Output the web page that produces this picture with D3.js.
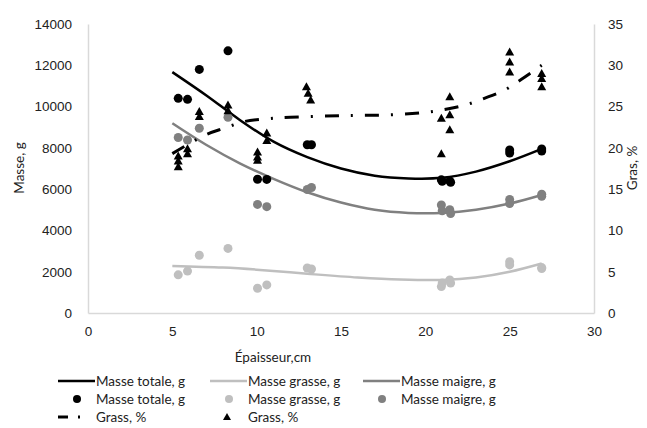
<!DOCTYPE html>
<html>
<head>
<meta charset="utf-8">
<script src="https://cdn.jsdelivr.net/npm/d3@7"></script>
<style>
  body { margin: 0; background: #fff; }
  svg { display: block; font-family: Lato, "Open Sans", sans-serif; }
  .tick-label { font-size: 13.5px; fill: #222; }
  .axis-title { font-size: 13.5px; fill: #222; }
  .legend-text { font-size: 13.5px; fill: #222; }
</style>
</head>
<body>
<svg width="647" height="428"></svg>
<script>
// observations (circles): thickness and masses
const obsThickness = [5.35, 5.9, 6.6, 8.3, 10.05, 10.6, 13.0, 13.25, 20.95, 21.0, 21.45, 21.5, 25.0, 25.0, 26.9, 26.9];
const totalMass = [10400, 10350, 11800, 12700, 6480, 6470, 8150, 8150, 6450, 6380, 6400, 6330, 7900, 7750, 7950, 7850];
const fatMass = [1850, 2030, 2800, 3130, 1200, 1360, 2180, 2130, 1280, 1450, 1600, 1450, 2480, 2330, 2200, 2150];
const leanMass = [8500, 8380, 8950, 9480, 5260, 5150, 5980, 6080, 5230, 4950, 5000, 4820, 5500, 5300, 5750, 5650];

// fat percentage (triangles)
const pctThickness = [5.35, 5.35, 5.35, 5.9, 5.9, 6.6, 6.6, 8.3, 8.3, 10.05, 10.05, 10.05, 10.6, 10.6, 12.95, 13.05, 13.2, 20.95, 20.95, 21.45, 21.45, 21.45, 25.0, 25.0, 25.0, 26.9, 26.9, 26.9];
const fatPct = [19.0, 18.4, 17.7, 19.9, 19.3, 24.4, 23.8, 25.2, 24.5, 19.5, 18.9, 18.5, 21.8, 20.9, 27.4, 26.6, 25.8, 19.3, 23.6, 26.2, 24.0, 22.2, 31.6, 30.4, 29.2, 29.0, 28.4, 27.4];

// trend curves
const totalTrendX = [5.0, 7, 9, 11, 13, 15, 17, 19, 21, 23, 25, 26.9];
const totalTrendY = [11670, 10550, 9350, 8300, 7550, 7000, 6650, 6520, 6550, 6850, 7350, 7950];
const leanTrendX = [5.0, 7, 9, 11, 13, 15, 17, 19, 21, 23, 25, 26.9];
const leanTrendY = [9190, 8150, 7250, 6500, 5850, 5350, 5000, 4850, 4850, 5000, 5300, 5716];
const fatTrendX = [5.0, 8, 10, 13, 16, 18.5, 21, 23, 25, 26.9];
const fatTrendY = [2280, 2200, 2100, 1900, 1720, 1620, 1600, 1720, 2000, 2400];
const pctTrendX = [5.0, 7, 8.1, 9.3, 10.5, 12, 15, 18, 20, 21.3, 22.4, 23.5, 24.7, 25.7, 26.9];
const pctTrendY = [19.3, 21.6, 22.4, 23.2, 23.5, 23.7, 23.9, 24.0, 24.3, 24.7, 25.2, 26.0, 27.0, 28.3, 30.0];

// axis ticks
const xTicks = [0, 5, 10, 15, 20, 25, 30];
const massTicks = [0, 2000, 4000, 6000, 8000, 10000, 12000, 14000];
const pctTicks = [0, 5, 10, 15, 20, 25, 30, 35];

const colTotal = '#000000';
const colFat = '#bfbfbf';
const colLean = '#808080';
const axisGrey = '#d9d9d9';

const margin = { top: 24, right: 53, bottom: 115, left: 88 };
const width = 647, height = 428;
const innerW = width - margin.left - margin.right;
const innerH = height - margin.top - margin.bottom;

const svg = d3.select('svg');
const g = svg.append('g').attr('transform', `translate(${margin.left},${margin.top})`);

const x = d3.scaleLinear().domain([0, 30]).range([0, innerW]);
const yMass = d3.scaleLinear().domain([0, 14000]).range([innerH, 0]);
const yPct = d3.scaleLinear().domain([0, 35]).range([innerH, 0]);

// axes (no tick marks, light grey lines)
const xAxis = g.append('g').attr('transform', `translate(0,${innerH})`)
  .call(d3.axisBottom(x).tickValues(xTicks).tickFormat(d3.format('d')).tickSize(0).tickPadding(13));
const yAxisL = g.append('g')
  .call(d3.axisLeft(yMass).tickValues(massTicks).tickFormat(d3.format('d')).tickSize(0).tickPadding(16));
const yAxisR = g.append('g').attr('transform', `translate(${innerW},0)`)
  .call(d3.axisRight(yPct).tickValues(pctTicks).tickFormat(d3.format('d')).tickSize(0).tickPadding(14));
[xAxis, yAxisL, yAxisR].forEach(a => {
  a.select('.domain').attr('stroke', axisGrey).attr('stroke-width', 1.5);
  a.selectAll('text').attr('class', 'tick-label').attr('font-family', null).attr('font-size', null);
});

// axis titles
svg.append('text').attr('class', 'axis-title')
  .attr('transform', 'translate(24,168) rotate(-90)')
  .attr('text-anchor', 'middle').text('Masse, g');
svg.append('text').attr('class', 'axis-title')
  .attr('transform', 'translate(637,168) rotate(-90)')
  .attr('text-anchor', 'middle').text('Gras, %');
svg.append('text').attr('class', 'axis-title')
  .attr('x', 273).attr('y', 362)
  .attr('text-anchor', 'middle').text('Épaisseur,cm');

// trend lines
const massLine = d3.line().x(d => x(d[0])).y(d => yMass(d[1])).curve(d3.curveCatmullRom);
const pctLine = d3.line().x(d => x(d[0])).y(d => yPct(d[1])).curve(d3.curveCatmullRom);

const trends = [
  { xs: fatTrendX, ys: fatTrendY, color: colFat },
  { xs: leanTrendX, ys: leanTrendY, color: colLean },
  { xs: totalTrendX, ys: totalTrendY, color: colTotal }
];
trends.forEach(t => {
  g.append('path')
    .datum(d3.zip(t.xs, t.ys))
    .attr('d', massLine)
    .attr('fill', 'none')
    .attr('stroke', t.color)
    .attr('stroke-width', 2.5);
});

// circles
const circleSeries = [
  { ys: fatMass, color: colFat },
  { ys: leanMass, color: colLean },
  { ys: totalMass, color: colTotal }
];
circleSeries.forEach(s => {
  g.append('g').selectAll('circle')
    .data(d3.zip(obsThickness, s.ys))
    .enter().append('circle')
      .attr('cx', d => x(d[0]))
      .attr('cy', d => yMass(d[1]))
      .attr('r', 4.5)
      .attr('fill', s.color);
});

// triangles
const tri = 'M0,-4.5L4.5,3.5L-4.5,3.5Z';
g.append('g').selectAll('path')
  .data(d3.zip(pctThickness, fatPct))
  .enter().append('path')
    .attr('d', tri)
    .attr('transform', d => `translate(${x(d[0])},${yPct(d[1])})`)
    .attr('fill', '#000');

// fat % trend (long dash dot)
g.append('path')
  .datum(d3.zip(pctTrendX, pctTrendY))
  .attr('d', pctLine)
  .attr('fill', 'none')
  .attr('stroke', '#000')
  .attr('stroke-width', 3)
  .attr('stroke-dasharray', '14,12,2,12');

// legend
const legend = svg.append('g');
const cols = [58, 210, 363];
const rows = [381, 399, 417];
const lineItems = [
  { label: 'Masse totale, g', color: colTotal },
  { label: 'Masse grasse, g', color: colFat },
  { label: 'Masse maigre, g', color: colLean }
];
lineItems.forEach((it, i) => {
  legend.append('line')
    .attr('x1', cols[i]).attr('x2', cols[i] + 37)
    .attr('y1', rows[0]).attr('y2', rows[0])
    .attr('stroke', it.color).attr('stroke-width', 2.5);
  legend.append('text').attr('class', 'legend-text')
    .attr('x', cols[i] + 38).attr('y', rows[0]).attr('dy', '0.35em')
    .text(it.label);
  legend.append('circle')
    .attr('cx', cols[i] + 19).attr('cy', rows[1]).attr('r', 4)
    .attr('fill', it.color);
  legend.append('text').attr('class', 'legend-text')
    .attr('x', cols[i] + 38).attr('y', rows[1]).attr('dy', '0.35em')
    .text(it.label);
});
legend.append('line')
  .attr('x1', cols[0]).attr('x2', cols[0] + 10)
  .attr('y1', rows[2]).attr('y2', rows[2])
  .attr('stroke', '#000').attr('stroke-width', 3);
legend.append('rect')
  .attr('x', cols[0] + 20).attr('y', rows[2] - 1.5)
  .attr('width', 2).attr('height', 3).attr('fill', '#000');
legend.append('text').attr('class', 'legend-text')
  .attr('x', cols[0] + 38).attr('y', rows[2]).attr('dy', '0.35em')
  .text('Grass, %');
legend.append('path')
  .attr('d', 'M0,-4L4,3L-4,3Z')
  .attr('transform', `translate(${cols[1] + 17},${rows[2]})`)
  .attr('fill', '#000');
legend.append('text').attr('class', 'legend-text')
  .attr('x', cols[1] + 38).attr('y', rows[2]).attr('dy', '0.35em')
  .text('Grass, %');
</script>
</body>
</html>
